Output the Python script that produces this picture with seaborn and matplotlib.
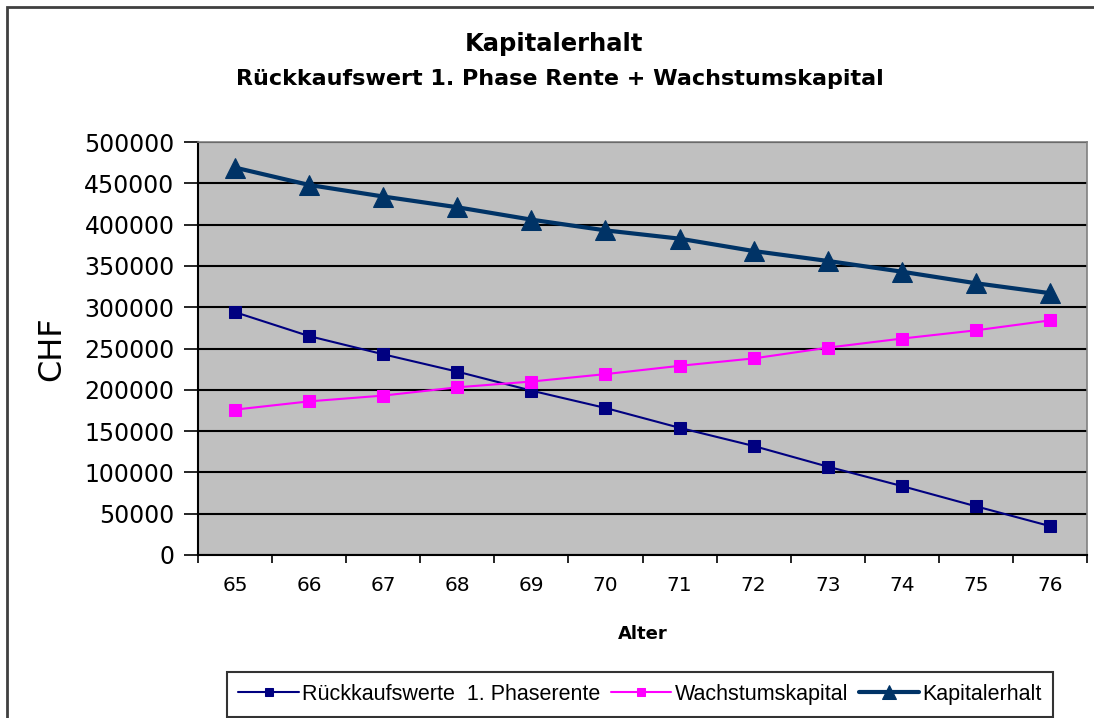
import numpy as np
import pandas as pd
import matplotlib
matplotlib.use("Agg")
import matplotlib.pyplot as plt
import seaborn as sns
from matplotlib.patches import Rectangle
from matplotlib.ticker import MultipleLocator, FixedLocator

# Data
alter = [65, 66, 67, 68, 69, 70, 71, 72, 73, 74, 75, 76]
rueckkauf = [294000, 265000, 243000, 222000, 199000, 178000,
             154000, 132000, 107000, 83500, 59000, 35000]
wachstum = [176000, 186000, 193000, 203000, 210000, 219000,
            229000, 238000, 251000, 262000, 272000, 284000]
kapital = [469000, 448000, 434000, 421000, 406000, 393000,
           383000, 368000, 356000, 343000, 329000, 317000]

series_names = ["Rückkaufswerte  1. Phaserente", "Wachstumskapital", "Kapitalerhalt"]
colors = ["#000080", "#FF00FF", "#003366"]

df = pd.DataFrame({
    "Alter": alter * 3,
    "CHF": rueckkauf + wachstum + kapital,
    "Serie": [series_names[0]] * 12 + [series_names[1]] * 12 + [series_names[2]] * 12,
})

sns.set_style("white")
plt.rcParams["font.family"] = ["DejaVu Sans"]
plt.rcParams["text.color"] = "black"
plt.rcParams["axes.labelcolor"] = "black"
plt.rcParams["xtick.color"] = "black"
plt.rcParams["ytick.color"] = "black"

fig = plt.figure(figsize=(10.94, 7.18), dpi=100)
ax = fig.add_axes([198 / 1094, 1 - 555 / 718, (1087 - 198) / 1094, (555 - 142) / 718])
ax.set_facecolor("#C0C0C0")

styles = [
    dict(marker="s", markersize=8, linewidth=1.5),
    dict(marker="s", markersize=8, linewidth=1.5),
    dict(marker="^", markersize=14, linewidth=3),
]
for name, col, st in zip(series_names, colors, styles):
    sub = df[df["Serie"] == name]
    sns.lineplot(data=sub, x="Alter", y="CHF", ax=ax, color=col, label=name,
                 markeredgecolor=col, zorder=3, **st)

ax.set_xlim(64.5, 76.5)
ax.set_ylim(0, 500000)
ax.yaxis.set_major_locator(MultipleLocator(50000))
ax.set_xticks(alter)
ax.xaxis.set_minor_locator(FixedLocator(np.arange(64.5, 77, 1)))
ax.grid(axis="y", color="black", linewidth=1.5, zorder=1)
ax.set_axisbelow(True)

ax.tick_params(axis="y", which="major", direction="out", length=10, width=1.2,
               color="black", labelsize=17, pad=7, left=True)
ax.tick_params(axis="x", which="major", length=0, labelsize=14.5, pad=15)
ax.tick_params(axis="x", which="minor", direction="out", length=6, width=1.2,
               color="black", bottom=True)
ax.yaxis.set_major_formatter(matplotlib.ticker.FuncFormatter(lambda v, p: f"{int(v)}"))

for side in ["left", "bottom"]:
    ax.spines[side].set_color("black")
    ax.spines[side].set_linewidth(1.5)
for side in ["top", "right"]:
    ax.spines[side].set_color("#808080")
    ax.spines[side].set_linewidth(1.2)

ax.set_xlabel("Alter", fontsize=13, fontweight="bold", labelpad=22)
ax.set_ylabel("CHF", fontsize=23, labelpad=12)
ax.legend_.remove()

fig.text(554 / 1094, 1 - 44 / 718, "Kapitalerhalt", ha="center", va="center",
         fontsize=17.5, fontweight="bold")
fig.text(560 / 1094, 1 - 79 / 718, "Rückkaufswert 1. Phase Rente + Wachstumskapital",
         ha="center", va="center", fontsize=16, fontweight="bold")

handles, labels = ax.get_legend_handles_labels()
leg = fig.legend(handles, labels, loc="center", ncol=3,
                 bbox_to_anchor=(640 / 1094, 1 - 694.5 / 718),
                 frameon=True, fancybox=False, edgecolor="black",
                 prop={"family": "Liberation Sans", "size": 15.5},
                 handlelength=2.8, handletextpad=0.15, columnspacing=0.5,
                 borderpad=0.55, borderaxespad=0, markerscale=0.7)
leg.get_frame().set_linewidth(1.5)

fig.patches.append(Rectangle((7 / 1094, -0.5), 2, 1.5 - 7 / 718,
                             transform=fig.transFigure, fill=False,
                             edgecolor="#404040", linewidth=2))

fig.savefig("out.png", dpi=100)
